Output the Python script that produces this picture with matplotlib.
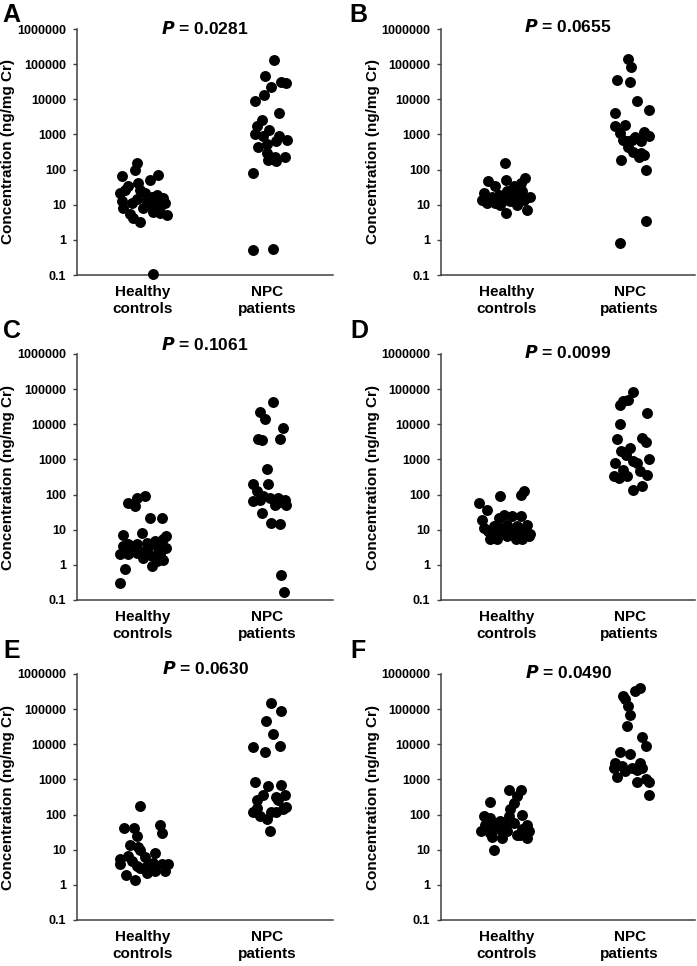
import numpy as np
import matplotlib
matplotlib.use('Agg')
import matplotlib.pyplot as plt

plt.rcParams['font.family'] = ['Liberation Sans', 'DejaVu Sans']
plt.rcParams['font.weight'] = 'bold'

# ---- data (values in ng/mg Cr, dx = horizontal jitter) ----
groups = ['Healthy\ncontrols', 'NPC\npatients']
panel_letters = ['A', 'B', 'C', 'D', 'E', 'F']
p_values = ['0.0281', '0.0655', '0.1061', '0.0099', '0.0630', '0.0490']
ytick_vals = [0.1, 1, 10, 100, 1000, 10000, 100000, 1000000]
ytick_labels = ['0.1', '1', '10', '100', '1000', '10000', '100000', '1000000']

# panel A
a_hc_dx = [-0.05, -0.065, -0.17, 0.12, 0.055, -0.04, -0.12, -0.185, -0.14, 0.015, -0.025,
           0.11, -0.17, -0.09, 0.03, 0.09, 0.165, 0.18, -0.16, 0.0, 0.07, 0.135, -0.105,
           -0.08, -0.025, 0.085, 0.135, 0.195, 0.045, -0.05, 0.07, 0.085]
a_hc_val = [150, 98, 67, 72, 50, 41, 33, 21, 26, 21, 26, 19, 12.5, 11, 12.5, 14, 16, 11,
            8, 8, 9, 8.5, 5.6, 4.2, 3.3, 6.3, 5.7, 5, 10, 15, 17, 0.11]
a_npc_dx = [0.055, -0.02, 0.115, 0.155, 0.035, -0.025, -0.095, 0.095, -0.04, -0.08, 0.015,
            -0.1, -0.03, 0.095, 0.16, 0.075, -0.07, -0.005, -0.005, 0.06, 0.14, 0.01,
            0.075, -0.11, -0.11, 0.05]
a_npc_val = [133000, 46000, 31000, 28500, 22000, 13500, 9200, 4000, 2500, 1750, 1300,
             1000, 880, 880, 700, 630, 450, 540, 290, 235, 235, 190, 170, 78, 0.5, 0.55]

# panel B
b_hc_dx = [-0.01, -0.145, -0.09, 0.0, 0.15, 0.115, 0.06, -0.185, -0.115, -0.06, 0.005,
           0.085, 0.13, 0.19, -0.2, -0.155, -0.05, 0.03, 0.085, 0.14, 0.17, 0.0, -0.02,
           0.06, -0.09, 0.115, -0.17, 0.04]
b_hc_val = [158, 47, 33, 51, 59, 41, 33, 21, 16.5, 18.5, 24, 27, 24, 16.5, 14, 11, 10,
            12.5, 10, 14, 7.2, 5.8, 14, 16.5, 11, 15, 13, 20]
b_npc_dx = [-0.015, 0.01, -0.1, 0.005, 0.06, 0.155, -0.115, -0.115, -0.035, -0.075, 0.115,
            0.155, 0.045, 0.09, -0.05, -0.01, 0.03, 0.09, 0.12, 0.075, -0.07, 0.135, 0.13,
            -0.075, -0.02, 0.02]
b_npc_val = [140000, 82000, 35000, 31000, 9000, 4900, 4200, 1700, 1900, 1100, 1200, 880,
             840, 630, 700, 450, 320, 290, 260, 230, 190, 98, 3.4, 0.8, 650, 700]

# panel C
c_hc_dx = [0.015, -0.05, -0.12, -0.065, 0.055, 0.15, -0.16, -0.01, 0.19, -0.12, -0.05,
           0.03, 0.095, 0.165, 0.19, -0.16, -0.185, -0.12, -0.05, 0.015, 0.07, 0.135,
           -0.08, 0.0, 0.11, 0.165, 0.07, -0.145, -0.185, 0.045, 0.12]
c_hc_val = [90, 80, 58, 47, 22, 22, 7.3, 8.2, 6.6, 3.8, 3.8, 4.2, 4.7, 5.3, 3.0, 3.4, 2.0,
            2.0, 2.2, 2.5, 1.8, 2.0, 3.0, 1.6, 1.3, 1.4, 0.9, 0.74, 0.3, 3.2, 3.0]
c_npc_dx = [0.05, -0.06, -0.02, 0.13, -0.07, -0.045, 0.1, -0.005, 0.01, -0.11, -0.085,
            -0.03, 0.02, 0.09, 0.14, -0.11, -0.06, 0.06, 0.155, 0.1, -0.04, 0.035, 0.1,
            0.115, 0.135]
c_npc_val = [44000, 23000, 14500, 7900, 3900, 3500, 3800, 550, 200, 200, 125, 90, 80, 80,
             72, 65, 72, 52, 52, 60, 29, 16, 15, 0.52, 0.17]

# panel D
d_hc_dx = [0.14, 0.115, -0.05, -0.225, -0.155, -0.195, -0.185, -0.06, 0.005, 0.045, 0.115,
           0.17, -0.145, -0.09, -0.02, 0.06, 0.1, 0.18, -0.13, -0.075, 0.005, 0.075,
           0.125, 0.195, -0.05, -0.1, 0.09, 0.14, -0.02]
d_hc_val = [125, 97, 90, 57, 37, 19, 11, 21, 14, 24, 24, 14, 9, 7.5, 9, 10, 7.5, 6.8, 5.5,
            5.5, 6.8, 5.5, 5.5, 7.5, 11, 13, 13, 9, 27]
d_npc_dx = [0.025, -0.05, -0.075, -0.015, 0.14, -0.075, -0.1, 0.1, 0.13, 0.005, -0.07,
            -0.03, 0.155, -0.115, 0.06, 0.03, -0.05, 0.085, -0.13, -0.09, -0.02, 0.14,
            0.1, 0.03]
d_npc_val = [84000, 47000, 36000, 50000, 21000, 10000, 3700, 4100, 3200, 2100, 1700,
             1300, 1030, 800, 800, 900, 500, 480, 340, 300, 340, 360, 180, 135]

# panel E
e_hc_dx = [-0.02, -0.15, -0.07, 0.135, 0.15, -0.05, -0.105, -0.04, -0.185, -0.12, -0.025,
           0.015, 0.095, -0.185, -0.09, -0.05, 0.03, 0.085, 0.15, 0.205, 0.175, 0.095,
           0.03, -0.135, -0.065, -0.02, 0.06]
e_hc_val = [172, 42, 42, 51, 30, 25, 14, 12, 5.5, 6.7, 9.5, 6.2, 8, 4, 4.8, 3.5, 3.5, 4.3,
            3.9, 3.9, 2.5, 2.5, 2.2, 1.9, 1.4, 3.0, 3.0]
e_npc_dx = [0.035, 0.11, -0.01, 0.05, 0.1, -0.11, -0.015, -0.1, 0.01, 0.115, -0.085,
            -0.03, 0.07, 0.14, 0.09, -0.11, -0.06, -0.005, 0.035, 0.075, 0.155, 0.13,
            -0.085, 0.02]
e_npc_val = [150000, 90000, 46000, 19000, 9000, 8300, 6200, 860, 640, 690, 260, 360, 320,
             350, 260, 115, 93, 75, 115, 115, 160, 140, 150, 35]

# panel F
f_hc_dx = [0.02, 0.115, 0.085, 0.06, -0.13, 0.03, -0.185, -0.13, -0.05, 0.02, 0.125,
           -0.01, 0.06, 0.17, -0.1, -0.17, -0.205, -0.13, -0.06, 0.005, 0.085, 0.18,
           -0.115, -0.035, 0.11, 0.17, -0.1, -0.02, 0.13]
f_hc_val = [510, 510, 330, 210, 230, 140, 90, 80, 65, 90, 100, 52, 58, 52, 52, 52, 35, 30,
            38, 34, 27, 35, 23, 22, 26, 22, 10, 45, 40]
f_npc_dx = [0.085, 0.045, -0.05, -0.035, -0.015, 0.005, -0.02, 0.1, 0.13, -0.075, 0.0,
            -0.115, 0.085, -0.06, -0.13, 0.02, 0.06, 0.1, -0.035, -0.1, 0.13, 0.06,
            0.155, 0.155]
f_npc_val = [400000, 320000, 230000, 190000, 120000, 67000, 34000, 16000, 8800, 6000, 5300,
             3000, 3000, 2400, 2100, 2100, 1900, 2100, 1700, 1150, 1050, 860, 860, 360]

panels = [
    (a_hc_dx, a_hc_val, a_npc_dx, a_npc_val),
    (b_hc_dx, b_hc_val, b_npc_dx, b_npc_val),
    (c_hc_dx, c_hc_val, c_npc_dx, c_npc_val),
    (d_hc_dx, d_hc_val, d_npc_dx, d_npc_val),
    (e_hc_dx, e_hc_val, e_npc_dx, e_npc_val),
    (f_hc_dx, f_hc_val, f_npc_dx, f_npc_val),
]

# ---- layout (pixels of a 697x966 figure) ----
W, H = 697, 966
fig = plt.figure(figsize=(W / 100, H / 100), dpi=100)

col_left = [77, 441]
col_width = [256, 254]
row_top = [29, 354, 674]
ax_h = 246
title_pad = [0, 2, 9, 2, 6, 2]        # px above axes top
letter_pos = [(2, 3), (349, 3), (3, 319), (350, 319), (3, 639), (350, 639)]
axis_col = '#404040'

for i, (hdx, hval, ndx, nval) in enumerate(panels):
    r, c = divmod(i, 2)
    left = col_left[c] / W
    bottom = (H - row_top[r] - ax_h) / H
    ax = fig.add_axes([left, bottom, col_width[c] / W, ax_h / H])

    ax.scatter(1 + np.array(hdx), hval, s=62, color='black', linewidths=0, zorder=3,
               clip_on=False)
    ax.scatter(2 + np.array(ndx), nval, s=62, color='black', linewidths=0, zorder=3,
               clip_on=False)

    ax.set_yscale('log')
    ax.set_ylim(0.1, 1000000)
    ax.set_xlim(0.47, 2.53)
    ax.set_yticks(ytick_vals)
    ax.set_yticklabels(ytick_labels)
    ax.yaxis.set_minor_locator(matplotlib.ticker.NullLocator())
    ax.set_xticks([1, 2])
    ax.set_xticklabels(groups, linespacing=1.3)
    ax.tick_params(axis='y', length=3, width=1, direction='out', pad=5,
                   labelsize=9, color=axis_col)
    ax.tick_params(axis='x', length=0, pad=7, labelsize=11)
    for lab in ax.get_yticklabels() + ax.get_xticklabels():
        lab.set_fontweight('bold')

    for side in ['top', 'right']:
        ax.spines[side].set_visible(False)
    for side in ['left', 'bottom']:
        ax.spines[side].set_color(axis_col)
        ax.spines[side].set_linewidth(1.1)

    ax.set_ylabel('Concentration (ng/mg Cr)', fontsize=11, fontweight='bold')
    ax.yaxis.set_label_coords(-0.242, 0.5)

    # title "P = ..." with italic P
    ty = 1 + title_pad[i] / ax_h
    ax.text(0.5, ty, '$\\mathbf{\\mathit{P}}$ = ' + p_values[i], transform=ax.transAxes,
            ha='center', va='center', fontsize=12.5, fontweight='bold')

    lx, ly = letter_pos[i]
    fig.text(lx / W, 1 - ly / H, panel_letters[i], ha='left', va='top',
             fontsize=18, fontweight='bold')

fig.savefig('out.png', dpi=100)
